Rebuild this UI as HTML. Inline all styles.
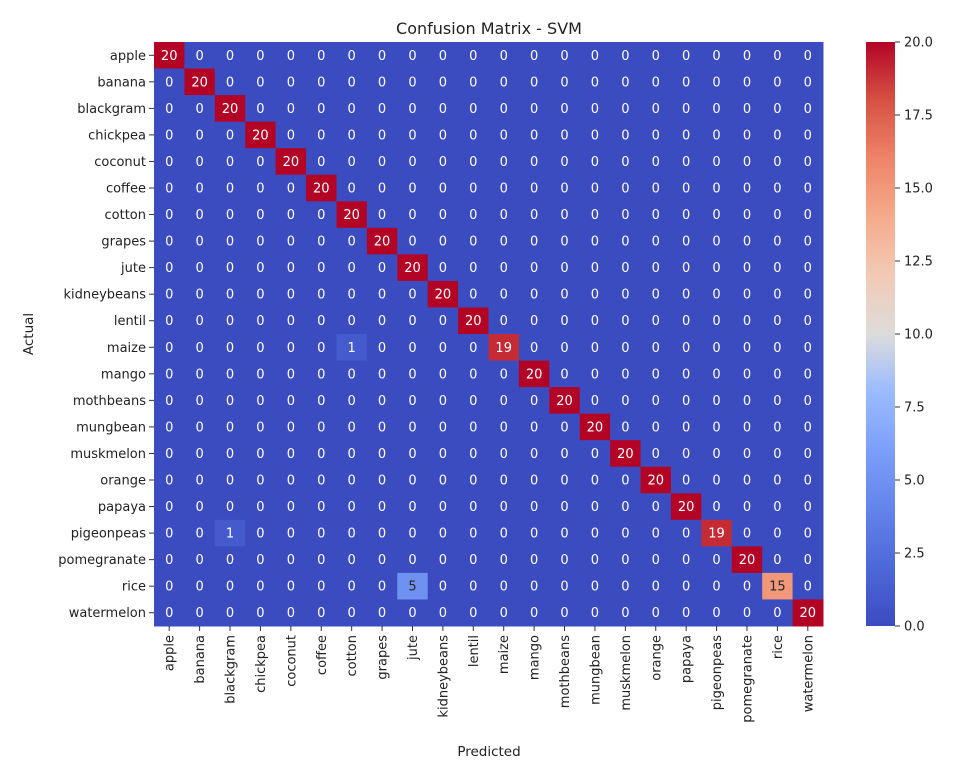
<!DOCTYPE html>
<html><head><meta charset="utf-8"><style>
body{margin:0;background:#fff;}
svg text{font-family:"DejaVu Sans","Liberation Sans",sans-serif;}
</style></head><body>
<svg id="chart" width="958" height="772" xmlns="http://www.w3.org/2000/svg">
<defs>
<linearGradient id="cw" x1="0" y1="1" x2="0" y2="0">
<stop offset="0" stop-color="#3b4cc0"/><stop offset="0.1" stop-color="#4e68d8"/><stop offset="0.2" stop-color="#6384eb"/>
<stop offset="0.3" stop-color="#7b9ff9"/><stop offset="0.4" stop-color="#9abbff"/><stop offset="0.5" stop-color="#dddcdc"/>
<stop offset="0.6" stop-color="#f2cab5"/><stop offset="0.7" stop-color="#f5ab8c"/><stop offset="0.8" stop-color="#ee8468"/>
<stop offset="0.9" stop-color="#d65244"/><stop offset="1" stop-color="#b40426"/>
</linearGradient>
</defs>
<text x="489" y="34" font-size="16" text-anchor="middle" fill="#222">Confusion Matrix - SVM</text>
<text x="489" y="756" font-size="13.5" text-anchor="middle" fill="#222">Predicted</text>
<text x="0" y="0" font-size="13.5" text-anchor="middle" fill="#222" transform="translate(33,334) rotate(-90)">Actual</text>
<g id="cells"></g><g id="xt"></g><g id="yt"></g>
<rect x="866" y="42" width="29" height="584" fill="url(#cw)"/>
<g id="cb"></g>
</svg>
<script>
const classes=["apple","banana","blackgram","chickpea","coconut","coffee","cotton","grapes","jute","kidneybeans","lentil","maize","mango","mothbeans","mungbean","muskmelon","orange","papaya","pigeonpeas","pomegranate","rice","watermelon"];
const diagValues=[20,20,20,20,20,20,20,20,20,20,20,19,20,20,20,20,20,20,19,20,15,20];
const offDiag=[[11,6,1],[18,2,1],[20,8,5]];
const cbTicks=[0,2.5,5,7.5,10,12.5,15,17.5,20];
const cbLabels=["0.0","2.5","5.0","7.5","10.0","12.5","15.0","17.5","20.0"];
const vmax=20;
const L=154,R=823,T=42,B=626,n=classes.length;
const cw=(R-L)/n,ch=(B-T)/n;
const xs=i=>L+i*cw, ys=i=>T+i*ch;
const stops=[[59,76,192],[78,104,216],[99,132,235],[123,159,249],[154,187,255],[221,220,220],[242,202,181],[245,171,140],[238,132,104],[214,82,68],[180,4,38]];
function color(v){let t=Math.max(0,Math.min(1,v/vmax))*10;let i=Math.min(9,Math.floor(t)),f=t-i;const a=stops[i],b=stops[i+1];return `rgb(${a.map((c,k)=>Math.round(c+(b[k]-c)*f)).join(",")})`;}
const M=classes.map((_,r)=>classes.map((_,c)=>r===c?diagValues[r]:0));
offDiag.forEach(([r,c,v])=>M[r][c]=v);
const NS="http://www.w3.org/2000/svg";
function mk(tag,attrs,parent,txt){const e=document.createElementNS(NS,tag);for(const k in attrs)e.setAttribute(k,attrs[k]);if(txt!==undefined)e.textContent=txt;parent.appendChild(e);return e;}
const cells=document.getElementById("cells");
M.forEach((row,r)=>row.forEach((v,c)=>{
 const rc=mk("rect",{x:xs(c),y:ys(r),width:cw+0.5,height:ch+0.5,fill:color(v)},cells);
 
 
 const fr=v/vmax; const dark=fr>0.2&&fr<0.8;
 const t=mk("text",{x:xs(c)+cw/2,y:ys(r)+ch/2+4.5,"font-size":13,"text-anchor":"middle",fill:dark?"#262626":"#fff"},cells,String(v));
 
 
}));
const xt=document.getElementById("xt"),yt=document.getElementById("yt");
classes.forEach((c,i)=>{
 mk("line",{x1:xs(i)+cw/2,x2:xs(i)+cw/2,y1:B,y2:B+5,stroke:"#333"},xt);
 const t=mk("text",{x:0,y:0,"font-size":13,"text-anchor":"end",fill:"#222",transform:`translate(${xs(i)+cw/2+4.5},${B+9}) rotate(-90)`},xt,c);
 
 
 mk("line",{x1:L-5,x2:L,y1:ys(i)+ch/2,y2:ys(i)+ch/2,stroke:"#333"},yt);
 const u=mk("text",{x:L-8,y:ys(i)+ch/2+4.5,"font-size":13,"text-anchor":"end",fill:"#222"},yt,c);
 
 
});
const cb=document.getElementById("cb");
cbTicks.forEach((v,i)=>{
 const y=B-(v/vmax)*(B-T);
 mk("line",{x1:895,x2:900,y1:y,y2:y,stroke:"#333"},cb);
 const t=mk("text",{x:904,y:y+4.5,"font-size":13,fill:"#222"},cb,cbLabels[i]);
 
 
});
</script>
</body></html>
